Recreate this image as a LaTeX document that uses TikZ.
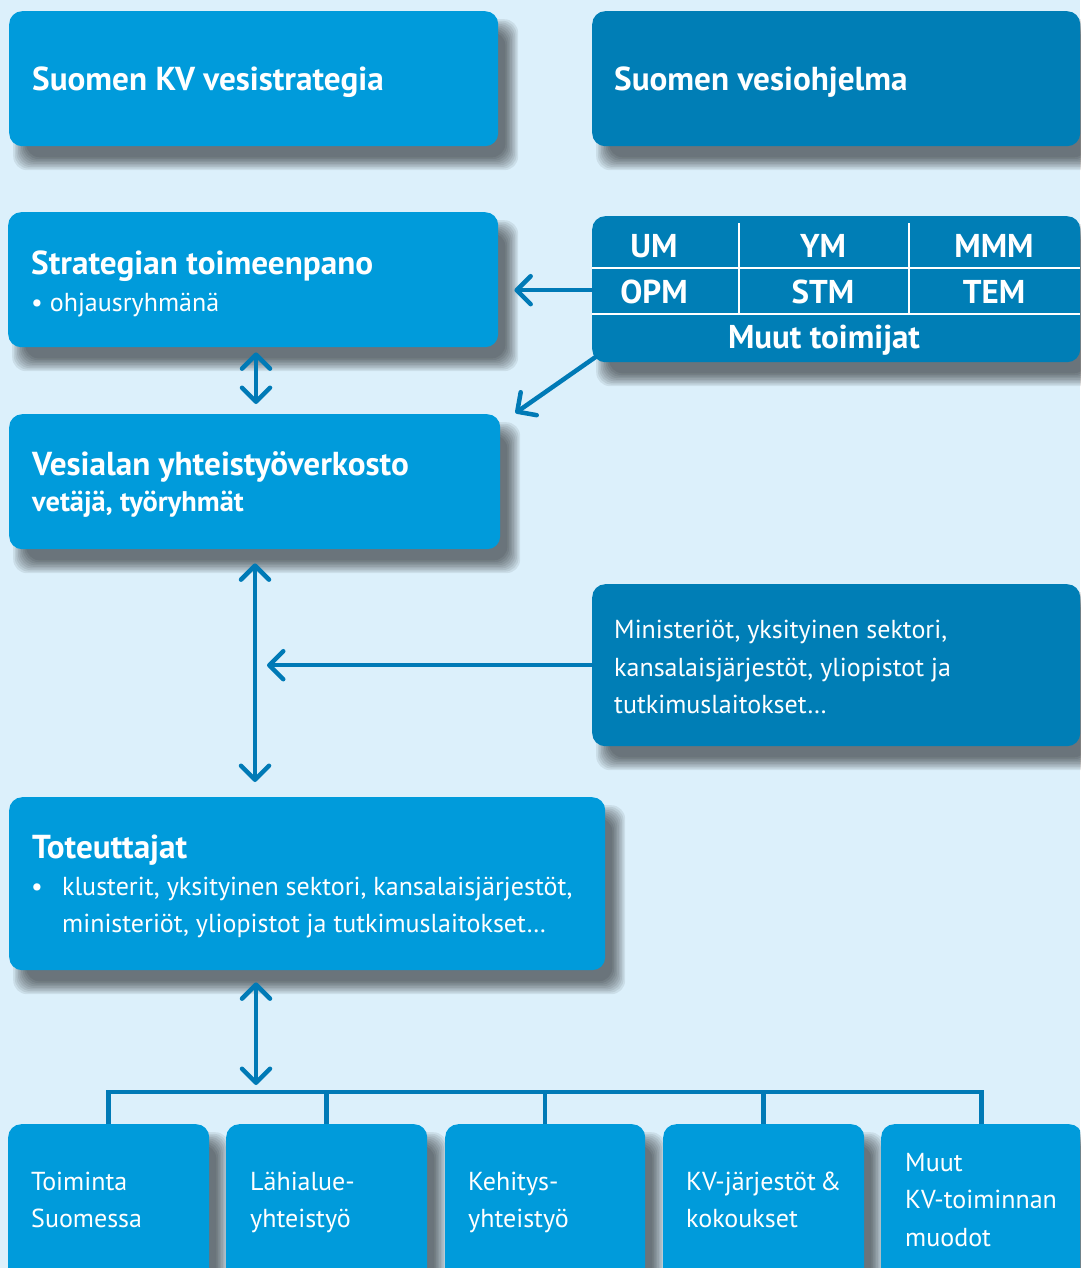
\documentclass[tikz,border=0pt]{standalone}
\usepackage{fontspec}
\setmainfont{PT Sans}
\usetikzlibrary{arrows.meta,calc}
\definecolor{bgc}{RGB}{220,240,251}
\definecolor{boxl}{RGB}{0,155,219}
\definecolor{boxd}{RGB}{0,126,182}
\definecolor{arrc}{RGB}{0,122,182}
\pgfdeclarelayer{bglayer}
\pgfdeclarelayer{shadowlayer}
\pgfsetlayers{bglayer,shadowlayer,main}
\newcommand\boxshadow[1]{%
  \begin{pgfonlayer}{shadowlayer}
  \foreach \i in {0,...,8}{%
    \pgfmathsetmacro\e{-5+1.6*\i}%
    \fill[black, fill opacity=0.075, rounded corners=14pt]
      ($(#1.north west)+({12-\e},{16-\e})$) rectangle ($(#1.south east)+({12+\e},{16+\e})$);
  }
  \end{pgfonlayer}%
}
\begin{document}
\begin{tikzpicture}[x=1pt,y=-1pt,
  box/.style={rounded corners=13pt, inner sep=0pt, anchor=north west},
  lbox/.style={box, fill=boxl},
  dbox/.style={box, fill=boxd},
  ttl/.style={anchor=base west, text=white, font=\bfseries\fontsize{33.2}{40}\selectfont, inner sep=0pt},
  sub/.style={anchor=base west, text=white, font=\bfseries\fontsize{28.4}{34}\selectfont, inner sep=0pt},
  cell/.style={anchor=base, text=white, font=\bfseries\fontsize{33}{40}\selectfont, inner sep=0pt},
  txt/.style={anchor=base west, text=white, font=\fontsize{26}{32}\selectfont, inner sep=0pt},
  tip/.tip={Straight Barb[length=14pt,width=28pt,round]},
  arr/.style={draw=arrc, line width=4.5pt, line cap=round, -tip},
  darr/.style={draw=arrc, line width=4.5pt, line cap=round, tip-tip},
  bus/.style={draw=arrc, line width=4.5pt},
  tline/.style={draw=white, line width=2pt},
]
\useasboundingbox (0,0) rectangle (1080,1268);
\begin{pgfonlayer}{bglayer}
\fill[bgc] (0,0) rectangle (1080,1268);
\end{pgfonlayer}
\clip (0,0) rectangle (1080,1268);

% boxes
\node[lbox, minimum width=489pt, minimum height=135pt] (b1) at (9,11) {};
\node[dbox, minimum width=488pt, minimum height=135pt] (b2) at (592,11) {};
\node[lbox, minimum width=490pt, minimum height=135pt] (b3) at (8,212) {};
\node[dbox, minimum width=488pt, minimum height=146pt] (tbl) at (592,216) {};
\node[lbox, minimum width=491pt, minimum height=135pt] (b4) at (9,414) {};
\node[dbox, minimum width=488pt, minimum height=162pt] (b5) at (592,584) {};
\node[lbox, minimum width=596pt, minimum height=173pt] (b6) at (9,797) {};
\node[lbox, minimum width=201pt, minimum height=170pt] (c1) at (8,1124) {};
\node[lbox, minimum width=201pt, minimum height=170pt] (c2) at (226,1124) {};
\node[lbox, minimum width=200pt, minimum height=170pt] (c3) at (445,1124) {};
\node[lbox, minimum width=201pt, minimum height=170pt] (c4) at (663,1124) {};
\node[lbox, minimum width=201pt, minimum height=170pt] (c5) at (881,1124) {};
\foreach \b in {b1,b2,b3,tbl,b4,b5,b6,c1,c2,c3,c4,c5}{\boxshadow{\b}}

% table lines
\draw[tline] (592,268) -- (1080,268);
\draw[tline] (592,314) -- (1080,314);
\draw[tline] (739,223) -- (739,314);
\draw[tline] (909,223) -- (909,314);

% texts
\node[ttl] (t1) at (32,91) {Suomen KV vesistrategia};
\node[ttl] (t2) at (614,91) {Suomen vesiohjelma};
\node[ttl] (t3) at (31,274) {Strategian toimeenpano};
\node[txt] (t3b) at (31,311) {• ohjausryhmänä};
\node[ttl] (t4) at (32,475) {Vesialan yhteistyöverkosto};
\node[sub] (t4b) at (32,511) {vetäjä, työryhmät};

\node[cell] (um) at (654,257) {UM};
\node[cell] (ym) at (823,257) {YM};
\node[cell] (mmm) at (994,257) {MMM};
\node[cell] (opm) at (654,303) {OPM};
\node[cell] (stm) at (823,303) {STM};
\node[cell] (tem) at (994,303) {TEM};
\node[cell] (muut) at (824,348) {Muut toimijat};

\node[txt] (t5a) at (614,638) {Ministeriöt, yksityinen sektori,};
\node[txt] (t5b) at (614,676) {kansalaisjärjestöt, yliopistot ja};
\node[txt] (t5c) at (614,713) {tutkimuslaitokset…};

\node[ttl] (t6) at (32,858) {Toteuttajat};
\node[txt] (t6bul) at (31,895) {•};
\node[txt] (t6a) at (62,895) {klusterit, yksityinen sektori, kansalaisjärjestöt,};
\node[txt] (t6b) at (62,932) {ministeriöt, yliopistot ja tutkimuslaitokset…};

\node[txt] (c1a) at (31,1190) {Toiminta};
\node[txt] (c1b) at (31,1227) {Suomessa};
\node[txt] (c2a) at (250,1190) {Lähialue-};
\node[txt] (c2b) at (250,1227) {yhteistyö};
\node[txt] (c3a) at (468,1190) {Kehitys-};
\node[txt] (c3b) at (468,1227) {yhteistyö};
\node[txt] (c4a) at (686,1190) {KV-järjestöt\,\&};
\node[txt] (c4b) at (686,1227) {kokoukset};
\node[txt] (c5a) at (905,1171) {Muut};
\node[txt] (c5b) at (905,1208) {KV-toiminnan};
\node[txt] (c5c) at (905,1246) {muodot};

% connectors
\coordinate (col) at (256,0);
\coordinate (busy) at (0,1092);
\draw[arr] ($(tbl.west)+(0,1)$) -- ($(tbl.west -| b3.east)+(16,1)$);
\draw[arr] ($(tbl.south west)+(3,-5)$) -- ($(b4.north east)+(15,-1)$);
\draw[darr] ($(col |- b3.south)+(0,5)$) -- ($(col |- b4.north)+(0,-10)$);
\draw[darr] ($(col |- b4.south)+(-1,14)$) -- ($(col |- b6.north)+(-1,-15)$);
\draw[arr] (b5.west) -- ($(b5.west -| col)+(11,0)$);
\draw[darr] ($(col |- b6.south)+(0,12)$) -- ($(col |- busy)+(0,-7)$);
\draw[bus, line join=miter] (c1.north) -- (c1.north |- busy) -- (c5.north |- busy) -- (c5.north);
\draw[bus] (c2.north) -- (c2.north |- busy);
\draw[bus] (c3.north) -- (c3.north |- busy);
\draw[bus] (c4.north) -- (c4.north |- busy);
\end{tikzpicture}
\end{document}
